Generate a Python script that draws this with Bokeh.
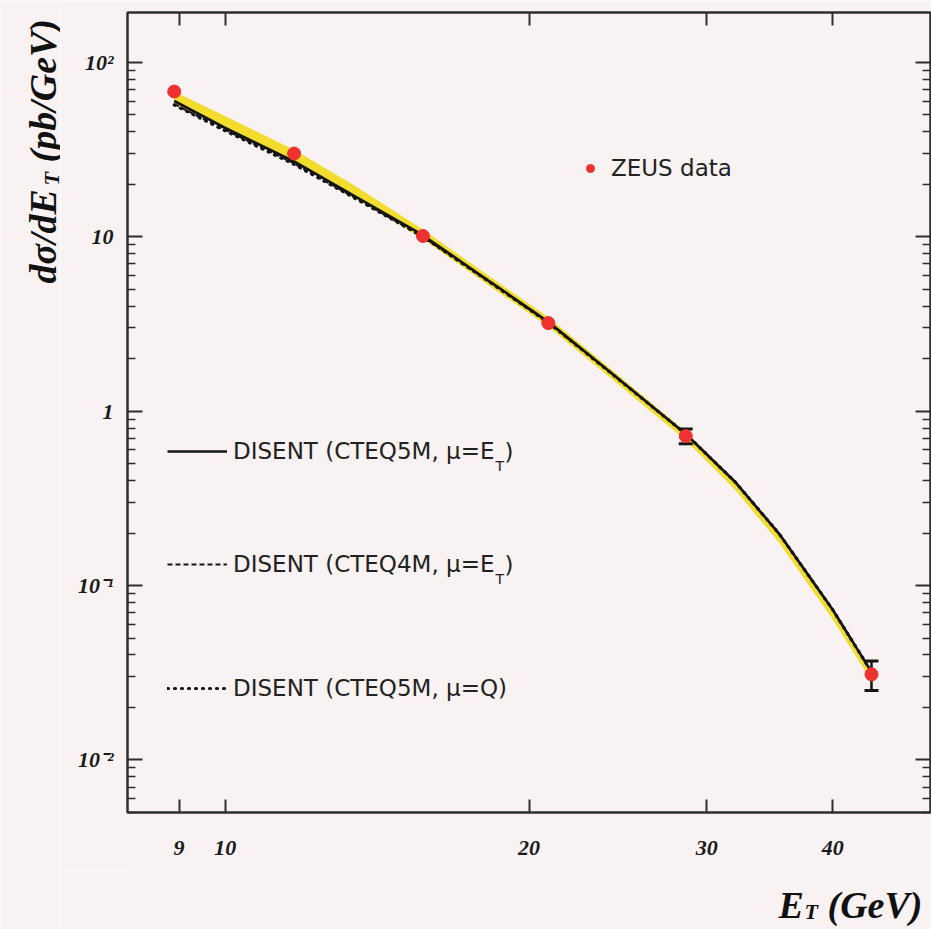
import math
import numpy as np
from bokeh.plotting import figure
from bokeh.layouts import row, column
from bokeh.models import Range1d, FixedTicker, LogAxis, Legend, LegendItem, Label
from bokeh.embed import file_html
from bokeh.resources import INLINE

# ---------------- data ----------------
x_data = [8.9, 11.7, 15.7, 20.9, 28.6, 43.7]            # E_T (GeV), ZEUS points
y_data = [68.0, 30.0, 10.1, 3.2, 0.72, 0.031]           # dsigma/dE_T (pb/GeV)
y_err = [0.0, 0.0, 0.0, 0.0, 0.07, 0.006]

et_grid = [8.9, 10.0, 11.7, 13.5, 15.7, 18.0, 20.9, 24.0, 28.6, 32.0, 35.4, 40.0, 43.7]
cteq5m_et = [60.0, 42.0, 27.0, 16.8, 10.2, 5.9, 3.25, 1.70, 0.74, 0.394, 0.198, 0.0727, 0.032]
cteq4m_et = [57.5, 41.0, 26.3, 16.5, 10.0, 5.85, 3.22, 1.69, 0.74, 0.394, 0.198, 0.0727, 0.032]
cteq5m_q = [57.0, 40.5, 26.0, 16.4, 10.0, 5.85, 3.22, 1.69, 0.74, 0.394, 0.198, 0.0727, 0.032]
band_lo = [58.0, 42.0, 27.0, 16.5, 9.7, 5.55, 3.05, 1.58, 0.68, 0.355, 0.176, 0.064, 0.0285]
band_hi = [68.0, 49.0, 31.5, 19.3, 11.0, 6.3, 3.45, 1.78, 0.765, 0.40, 0.198, 0.0725, 0.0325]

x_tick_values = [9, 10, 20, 30, 40]
x_tick_labels = ["9", "10", "20", "30", "40"]
y_tick_values = [0.01, 0.1, 1, 10, 100]
y_tick_labels = ["10\u207b\u00b2", "10\u207b\u00b9", "1", "10", "10\u00b2"]

legend_labels = ["DISENT (CTEQ5M, \u03bc=E", "DISENT (CTEQ4M, \u03bc=E", "DISENT (CTEQ5M, \u03bc=Q)"]
data_label = "ZEUS data"

# ---------------- style ----------------
BG = "#f8f2f2"
AX = "#2e2e2e"
RED = "#ee3232"
YEL = "#f1da22"
INK = "#151515"
SERIF = "Liberation Serif"
SANS = "DejaVu Sans"

p = figure(width=871, height=870, x_axis_type="log", y_axis_type="log",
           x_range=Range1d(8, 50), y_range=Range1d(0.005, 193),
           output_backend="svg", toolbar_location=None,
           min_border_left=67, min_border_right=1, min_border_top=12, min_border_bottom=58,
           background_fill_color=BG, border_fill_color=BG,
           outline_line_color=AX, outline_line_width=2)
p.grid.visible = False

y_minor = [m * 10.0 ** k for k in range(-3, 3) for m in range(2, 10)]

def style(ax):
    ax.axis_line_color = AX
    ax.axis_line_width = 2
    ax.major_tick_line_color = AX
    ax.minor_tick_line_color = AX
    ax.major_tick_line_width = 2
    ax.minor_tick_line_width = 1.5
    ax.major_tick_in = 15
    ax.major_tick_out = 0
    ax.minor_tick_in = 8
    ax.minor_tick_out = 0
    ax.major_label_text_font = SERIF
    ax.major_label_text_font_style = "bold italic"
    ax.major_label_text_color = "#1a1a1a"
    ax.major_label_text_font_size = "22px"

xa = p.xaxis[0]
xa.ticker = FixedTicker(ticks=x_tick_values, minor_ticks=[])
xa.major_label_overrides = {float(v): l for v, l in zip(x_tick_values, x_tick_labels)}
style(xa)
xa.major_tick_in = 13
xa.major_label_standoff = 28

ya = p.yaxis[0]
ya.ticker = FixedTicker(ticks=y_tick_values, minor_ticks=y_minor)
ya.major_label_overrides = {float(v): l for v, l in zip(y_tick_values, y_tick_labels)}
style(ya)
ya.major_label_standoff = 14

# mirrored axes: ticks only
top = LogAxis(ticker=FixedTicker(ticks=x_tick_values, minor_ticks=[]))
style(top)
top.major_tick_in = 13
top.major_label_standoff = 0
top.major_label_overrides = {float(v): "" for v in x_tick_values}
p.add_layout(top, "above")

right = LogAxis(ticker=FixedTicker(ticks=y_tick_values, minor_ticks=y_minor))
style(right)
right.major_label_standoff = 0
right.major_label_overrides = {float(v): "" for v in y_tick_values}
p.add_layout(right, "right")

# ---------------- theory band and curves ----------------
p.varea(x=et_grid, y1=band_lo, y2=band_hi, fill_color=YEL, fill_alpha=0.95)
r_dot = p.line(et_grid, cteq5m_q, line_color=INK, line_width=3.2, line_dash="1 6", line_cap="round")
r_dash = p.line(et_grid, cteq4m_et, line_color=INK, line_width=2, line_dash="5 3")
r_solid = p.line(et_grid, cteq5m_et, line_color=INK, line_width=2.6)

# ---------------- data with error bars ----------------
xd = np.array(x_data)
yd = np.array(y_data)
ye = np.array(y_err)
m = ye > 0
p.segment(x0=xd[m], y0=yd[m] - ye[m], x1=xd[m], y1=yd[m] + ye[m], line_color=INK, line_width=2.5)
p.scatter(np.concatenate([xd[m], xd[m]]), np.concatenate([yd[m] - ye[m], yd[m] + ye[m]]),
          marker="dash", size=14, line_color=INK, line_width=3)
r_data = p.scatter(x_data, y_data, size=13, fill_color=RED, line_color=RED)

# ---------------- legends ----------------
def make_legend(label, renderer, loc, gw, standoff):
    lg = Legend(items=[LegendItem(label=label, renderers=[renderer])], location=loc,
                glyph_width=gw, glyph_height=30, label_height=30, label_standoff=standoff,
                padding=0, margin=0, spacing=0, border_line_color=None,
                background_fill_alpha=0, label_text_font=SANS, label_text_font_size="23px",
                label_text_color="#222222")
    p.add_layout(lg, "center")

make_legend(data_label, r_data, (453, 629), 20, 11)
rows_y = [361, 248, 124]
for lab_text, rr, yc in zip(legend_labels, [r_solid, r_dash, r_dot], rows_y):
    make_legend(lab_text, rr, (40, yc - 15), 60, 6)

for yc in rows_y[:2]:
    p.add_layout(Label(x=368, y=yc - 14, x_units="screen", y_units="screen", text="T",
                       text_font=SANS, text_font_size="14px", text_color="#222222",
                       text_baseline="alphabetic"))
    p.add_layout(Label(x=377, y=yc, x_units="screen", y_units="screen", text=")",
                       text_font=SANS, text_font_size="23px", text_color="#222222",
                       text_baseline="middle"))

# ---------------- axis titles: two small text-only panels ----------------
def text_panel(w, h):
    f = figure(width=w, height=h, x_range=Range1d(0, 1), y_range=Range1d(0, 1),
               x_axis_location=None, y_axis_location=None, output_backend="svg",
               toolbar_location=None, min_border=0, background_fill_color=BG,
               border_fill_color=BG, outline_line_color=None)
    f.grid.visible = False
    return f

def lab(fig, text, x, y, size, angle=0.0):
    fig.add_layout(Label(x=x, y=y, x_units="screen", y_units="screen", text=text, angle=angle,
                         text_font=SERIF, text_font_style="bold italic", text_font_size=size,
                         text_color="#111111", text_baseline="alphabetic", text_align="left"))

ylab = text_panel(60, 929)
A = math.pi / 2
lab(ylab, "d\u03c3/dE", 42, 646, "38px", angle=A)
lab(ylab, "T", 51, 744, "22px", angle=A)
lab(ylab, "(pb/GeV)", 42, 767, "38px", angle=A)

xlab = text_panel(871, 59)
lab(xlab, "E", 651, 25, "38px")
lab(xlab, "T", 677, 18, "22px")
lab(xlab, "(GeV)", 700, 25, "38px")

layout = row(ylab, column(p, xlab, spacing=0), spacing=0)
open("out.html", "w").write(file_html(layout, INLINE))
